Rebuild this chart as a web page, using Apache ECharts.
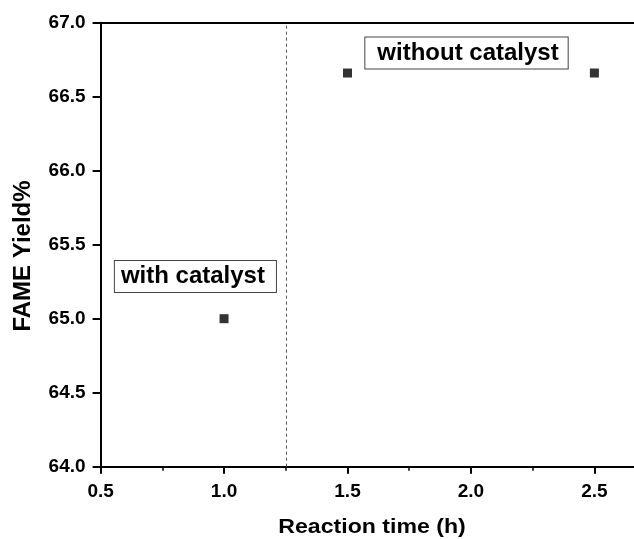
<!DOCTYPE html>
<html>
<head>
<meta charset="utf-8">
<script src="https://cdn.jsdelivr.net/npm/echarts@6/dist/echarts.min.js"></script>
<style>html,body{margin:0;padding:0;background:#fff}#wrap{position:relative;width:634px;height:539px;overflow:hidden}#c{position:absolute;left:0;top:0;width:720px;height:539px}</style>
</head>
<body>
<div id="wrap"><div id="c"></div></div>
<script>
var times = [1.0, 1.5, 2.5];
var yields = [65.0, 66.66, 66.66];
var dividerX = 1.25;
var annotationTexts = ['with catalyst', 'without catalyst'];
var annotationX = [0.884, 1.982];
var annotationY = [65.285, 66.795];
var xTitle = 'Reaction time (h)';
var yTitle = 'FAME Yield%';

var font = 'Liberation Sans, Arial, Helvetica, sans-serif';
var annotationPadding = [[4, 11, 3, 6], [4, 9, 3, 12]];
var chart = echarts.init(document.getElementById('c'), null, {renderer: 'canvas', width: 720, height: 539});
chart.setOption({
  animation: false,
  backgroundColor: '#fff',
  grid: {left: 100.6, top: 22.7, width: 617.25, height: 444, show: false, containLabel: false, outerBoundsMode: 'none'},
  xAxis: {
    type: 'value', min: 0.5, max: 3.0, interval: 0.5,
    axisLine: {show: true, onZero: false, lineStyle: {color: '#000', width: 2}},
    axisTick: {show: true, inside: false, length: 7, lineStyle: {color: '#000', width: 2}},
    minorTick: {show: true, splitNumber: 2, length: 4, lineStyle: {color: '#000', width: 1.5}},
    axisLabel: {fontFamily: font, fontWeight: 'bold', fontSize: 19, color: '#000', margin: 16,
      formatter: function (v) { return v.toFixed(1); }},
    splitLine: {show: false}
  },
  yAxis: {
    type: 'value', min: 64, max: 67, interval: 0.5,
    axisLine: {show: true, onZero: false, lineStyle: {color: '#000', width: 2}},
    axisTick: {show: true, inside: false, length: 8, lineStyle: {color: '#000', width: 2}},
    axisLabel: {fontFamily: font, fontWeight: 'bold', fontSize: 19, color: '#000', margin: 15,
      formatter: function (v) { return v.toFixed(1); }},
    splitLine: {show: false}
  },
  graphic: [
    {type: 'text', x: 372, y: 527, scaleX: 1.1, style: {text: xTitle, fontFamily: font, fontWeight: 'bold', fontSize: 21, fill: '#000', textAlign: 'center', textVerticalAlign: 'middle'}},
    {type: 'text', x: 23, y: 256, rotation: Math.PI / 2, style: {text: yTitle, fontFamily: font, fontWeight: 'bold', fontSize: 24, fill: '#000', textAlign: 'center', textVerticalAlign: 'middle'}}
  ],
  series: [{
    type: 'scatter',
    symbol: 'rect',
    symbolSize: 9,
    itemStyle: {color: '#000'},
    data: times.map(function (t, i) { return [t, yields[i]]; }),
    markLine: {
      silent: true, symbol: 'none', label: {show: false},
      lineStyle: {color: '#555', type: [3, 3], width: 1},
      data: [{xAxis: dividerX}]
    },
    markPoint: {
      silent: true,
      symbol: 'rect', symbolSize: 0,
      label: {
        show: true, position: 'inside',
        fontFamily: font, fontWeight: 'bold', fontSize: 24, color: '#000',
        backgroundColor: '#fff', borderColor: '#444', borderWidth: 1,
        formatter: function (p) { return p.name; }
      },
      data: annotationTexts.map(function (t, i) {
        return {name: t, coord: [annotationX[i], annotationY[i]], label: {padding: annotationPadding[i]}};
      })
    }
  }, {
    type: 'line', data: [], markLine: {
      silent: true, symbol: 'none', label: {show: false},
      lineStyle: {color: '#000', width: 2, type: 'solid'},
      data: [{yAxis: 67}]
    }
  }]
});
</script>
</body>
</html>
